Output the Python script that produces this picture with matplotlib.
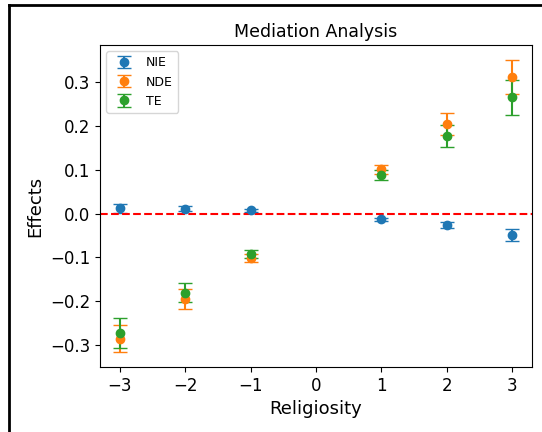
import matplotlib
matplotlib.use("Agg")
import matplotlib.pyplot as plt
from matplotlib.lines import Line2D

# niveles de religiosidad
religiosity = [-3, -2, -1, 1, 2, 3]

# efectos estimados y sus errores
nie = [0.012, 0.011, 0.0075, -0.013, -0.026, -0.049]
nie_err = [0.011, 0.006, 0.003, 0.003, 0.007, 0.013]

nde = [-0.286, -0.195, -0.101, 0.101, 0.204, 0.313]
nde_err = [0.031, 0.022, 0.009, 0.011, 0.025, 0.039]

te = [-0.273, -0.181, -0.092, 0.089, 0.178, 0.266]
te_err = [0.034, 0.022, 0.010, 0.011, 0.025, 0.040]

xticks = [-3, -2, -1, 0, 1, 2, 3]

fig = plt.figure(figsize=(5.42, 4.32), dpi=100)
ax = fig.add_axes([0.1845, 0.1505, 0.797, 0.7453])

ax.errorbar(religiosity, nie, yerr=nie_err, fmt='o', capsize=5, label='NIE')
ax.errorbar(religiosity, nde, yerr=nde_err, fmt='o', capsize=5, label='NDE')
ax.errorbar(religiosity, te, yerr=te_err, fmt='o', capsize=5, label='TE')
ax.axhline(0, color='red', linestyle='--')

ax.set_xticks(xticks)
ax.tick_params(labelsize=12)
ax.set_xlabel("Religiosity", fontsize=13)
ax.set_ylabel("Effects", fontsize=13)
ax.set_title("Mediation Analysis", fontsize=12.5)
ax.legend(loc='upper left', fontsize=9)

# marco negro de la captura original
fig.add_artist(Line2D([8.5 / 542, 8.5 / 542], [0, 1 - 4.5 / 432],
                      transform=fig.transFigure, color='black', lw=2))
fig.add_artist(Line2D([8.5 / 542, 1], [1 - 4.5 / 432, 1 - 4.5 / 432],
                      transform=fig.transFigure, color='black', lw=2))

fig.savefig("out.png", dpi=100)
